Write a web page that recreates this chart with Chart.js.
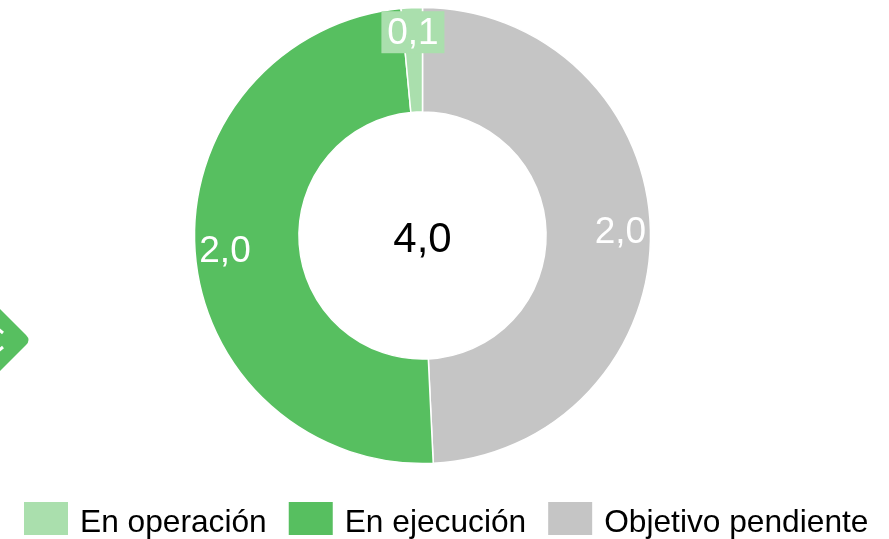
<!DOCTYPE html>
<html><head><meta charset="utf-8">
<style>html,body{margin:0;padding:0;background:#fff}#w{position:relative;width:889px;height:539px}canvas{display:block}</style>
<script src="https://cdn.jsdelivr.net/npm/chart.js@4/dist/chart.umd.min.js"></script>
</head><body><div id="w"><canvas id="c" width="889" height="539"></canvas></div>
<script>
const categories = ["Objetivo pendiente", "En ejecución", "En operación"];
const values = [1.97, 1.97, 0.06];
const colors = ["#C5C5C5", "#57BF60", "#AADFAD"];
const centerLabel = "4,0";
const FONT = '"Liberation Sans", Arial, sans-serif';
const fmt = v => v.toFixed(1).replace(".", ",");

const extras = {
  id: "extras",
  afterLayout(chart) {
    const a = chart.chartArea;
    a.left = 0; a.right = 845; a.top = 0; a.bottom = 471;
    a.width = 845; a.height = 471;
    const l = chart.legend;
    const w = l.right - l.left;
    l.left = 2; l.right = 2 + w;
    const h = l.bottom - l.top;
    l.top = 484.7; l.bottom = 484.7 + h;
  },
  beforeDraw(chart) {
    const c = chart.ctx;
    c.save();
    c.fillStyle = colors[1];
    c.beginPath();
    c.moveTo(-4, 305);
    c.lineTo(26, 335);
    c.quadraticCurveTo(31, 340, 26, 345);
    c.lineTo(-4, 375);
    c.closePath();
    c.fill();
    c.strokeStyle = "#fff";
    c.lineWidth = 3;
    c.beginPath();
    c.moveTo(-3, 328); c.lineTo(3, 333);
    c.moveTo(3, 347); c.lineTo(-3, 352);
    c.stroke();
    c.restore();
  },
  afterDraw(chart) {
    const c = chart.ctx;
    const arcs = chart.getDatasetMeta(0).data;
    c.save();
    const legend = chart.legend;
    legend.adjustHitBoxes();
    legend.legendHitBoxes.forEach((hit, i) => {
      c.fillStyle = colors[legend.legendItems[i].index];
      c.fillRect(hit.left, legend.top + 17.3, 44, 33);
    });
    c.textAlign = "center";
    c.textBaseline = "middle";
    arcs.forEach((a, i) => {
      const mid = (a.startAngle + a.endAngle) / 2;
      const small = values[i] < 0.2;
      const r = small ? 203.5 : 198;
      const x = a.x + r * Math.cos(mid), y = a.y + r * Math.sin(mid);
      c.font = "37px " + FONT;
      const t = fmt(values[i]);
      if (small) {
        c.fillStyle = colors[i];
        c.fillRect(x - 31.5, y - 21, 63, 42);
      }
      c.fillStyle = "#fff";
      c.fillText(t, x, y + 2);
    });
    c.fillStyle = "#000";
    c.font = "42px " + FONT;
    c.fillText(centerLabel, arcs[0].x, arcs[0].y + 5);
    c.restore();
  }
};

new Chart(document.getElementById("c"), {
  type: "doughnut",
  data: { labels: categories, datasets: [{ data: values, backgroundColor: colors, borderColor: "#fff", borderWidth: 1.5, radius: 228, cutout: "54.2%" }] },
  plugins: [extras],
  options: {
    responsive: false, animation: false,
    plugins: {
      tooltip: { enabled: false },
      legend: {
        position: "bottom", reverse: true, align: "start",
        labels: {
          boxWidth: 40.15, boxHeight: 33, padding: 22, color: "#000",
          font: { family: FONT, size: 31.7 },
          generateLabels(chart) {
            return Chart.overrides.doughnut.plugins.legend.labels.generateLabels(chart)
              .map(l => ({ ...l, fillStyle: "rgba(0,0,0,0)", lineWidth: 0 }));
          }
        }
      }
    }
  }
});
</script></body></html>
